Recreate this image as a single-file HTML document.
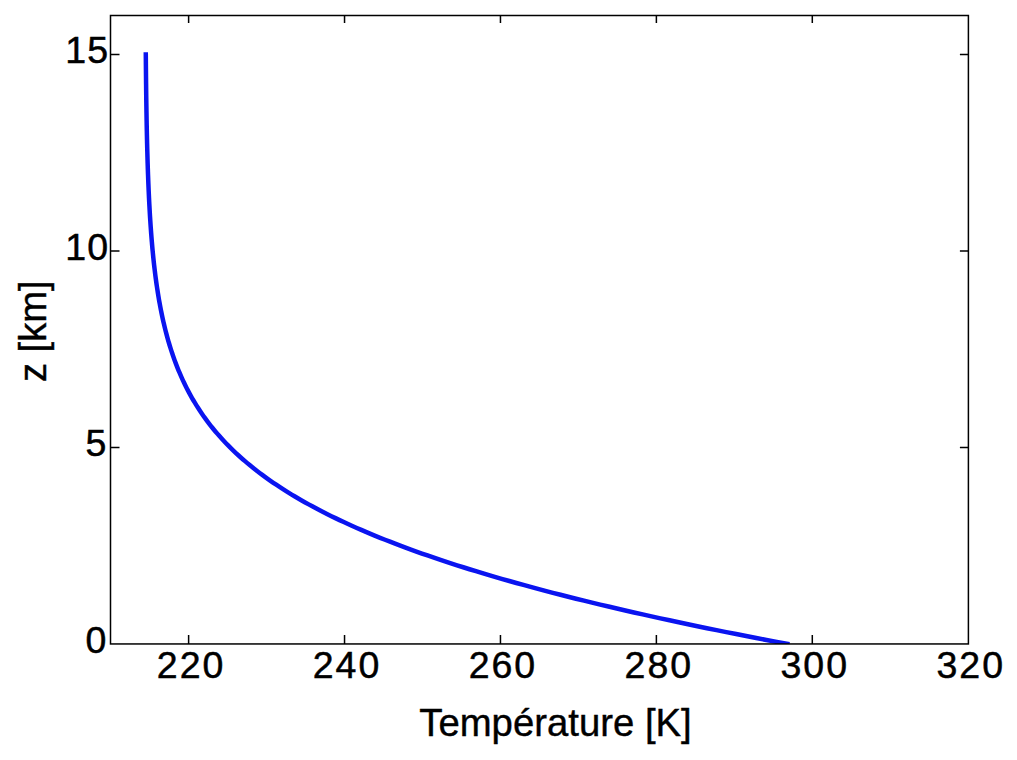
<!DOCTYPE html>
<html><head><meta charset="utf-8"><style>
html,body{margin:0;padding:0;background:#fff;}
svg{display:block;}
text{font-family:"Liberation Sans",sans-serif;fill:#000;}
</style></head><body>
<svg width="1017" height="760" viewBox="0 0 1017 760">
<rect width="1017" height="760" fill="#fff"/>
<defs><clipPath id="ax"><rect x="110.5" y="15.5" width="857.90" height="628.45"/></clipPath></defs>
<path clip-path="url(#ax)" d="M787.27,643.90 L776.81,641.93 L766.47,639.97 L756.25,638.00 L746.14,636.04 L736.16,634.07 L726.29,632.11 L716.53,630.14 L706.90,628.18 L697.38,626.22 L687.98,624.25 L678.69,622.28 L669.51,620.32 L660.45,618.36 L651.51,616.39 L642.68,614.42 L633.96,612.46 L625.35,610.50 L616.86,608.53 L608.47,606.56 L600.20,604.60 L592.04,602.63 L583.99,600.67 L576.04,598.70 L568.21,596.74 L560.48,594.77 L552.86,592.81 L545.34,590.85 L537.94,588.88 L530.63,586.91 L523.44,584.95 L516.34,582.99 L509.35,581.02 L502.46,579.05 L495.67,577.09 L488.99,575.12 L482.40,573.16 L475.92,571.19 L469.53,569.23 L463.24,567.26 L457.05,565.30 L450.96,563.34 L444.96,561.37 L439.05,559.40 L433.24,557.44 L427.53,555.48 L421.90,553.51 L416.37,551.54 L410.93,549.58 L405.57,547.62 L400.31,545.65 L395.13,543.68 L390.05,541.72 L385.04,539.75 L380.13,537.79 L375.29,535.83 L370.55,533.86 L365.88,531.89 L361.30,529.93 L356.79,527.96 L352.37,526.00 L348.02,524.03 L343.76,522.07 L339.57,520.11 L335.45,518.14 L331.41,516.17 L327.45,514.21 L323.56,512.25 L319.74,510.28 L315.99,508.31 L312.31,506.35 L308.71,504.38 L305.17,502.42 L301.70,500.45 L298.29,498.49 L294.95,496.52 L291.68,494.56 L288.46,492.60 L285.32,490.63 L282.23,488.66 L279.20,486.70 L276.24,484.74 L273.33,482.77 L270.48,480.80 L267.69,478.84 L264.96,476.88 L262.28,474.91 L259.65,472.94 L257.08,470.98 L254.56,469.01 L252.09,467.05 L249.68,465.09 L247.31,463.12 L245.00,461.15 L242.73,459.19 L240.51,457.23 L238.33,455.26 L236.21,453.30 L234.12,451.33 L232.08,449.37 L230.09,447.40 L228.14,445.44 L226.23,443.47 L224.36,441.50 L222.53,439.54 L220.74,437.57 L218.99,435.61 L217.28,433.64 L215.60,431.68 L213.96,429.71 L212.36,427.75 L210.79,425.78 L209.26,423.82 L207.76,421.86 L206.30,419.89 L204.86,417.92 L203.46,415.96 L202.09,414.00 L200.76,412.03 L199.45,410.06 L198.17,408.10 L196.92,406.13 L195.70,404.17 L194.50,402.20 L193.33,400.24 L192.19,398.27 L191.08,396.31 L189.99,394.35 L188.92,392.38 L187.88,390.41 L186.87,388.45 L185.87,386.49 L184.90,384.52 L183.96,382.56 L183.03,380.59 L182.12,378.62 L181.24,376.66 L180.38,374.69 L179.54,372.73 L178.71,370.76 L177.91,368.80 L177.12,366.83 L176.35,364.87 L175.61,362.90 L174.87,360.94 L174.16,358.98 L173.46,357.01 L172.78,355.05 L172.12,353.08 L171.47,351.12 L170.83,349.15 L170.21,347.19 L169.61,345.22 L169.02,343.25 L168.44,341.29 L167.88,339.32 L167.33,337.36 L166.79,335.40 L166.27,333.43 L165.76,331.46 L165.26,329.50 L164.77,327.53 L164.30,325.57 L163.83,323.60 L163.38,321.64 L162.94,319.68 L162.50,317.71 L162.08,315.75 L161.67,313.78 L161.27,311.82 L160.88,309.85 L160.50,307.88 L160.12,305.92 L159.76,303.95 L159.40,301.99 L159.06,300.02 L158.72,298.06 L158.39,296.10 L158.07,294.13 L157.75,292.17 L157.45,290.20 L157.15,288.23 L156.85,286.27 L156.57,284.31 L156.29,282.34 L156.02,280.38 L155.75,278.41 L155.50,276.44 L155.24,274.48 L155.00,272.52 L154.76,270.55 L154.52,268.58 L154.29,266.62 L154.07,264.65 L153.85,262.69 L153.64,260.73 L153.43,258.76 L153.23,256.80 L153.03,254.83 L152.84,252.87 L152.65,250.90 L152.47,248.94 L152.29,246.97 L152.12,245.00 L151.95,243.04 L151.78,241.07 L151.62,239.11 L151.46,237.15 L151.31,235.18 L151.16,233.22 L151.01,231.25 L150.87,229.28 L150.73,227.32 L150.59,225.36 L150.46,223.39 L150.33,221.43 L150.20,219.46 L150.08,217.50 L149.96,215.53 L149.84,213.57 L149.73,211.60 L149.62,209.63 L149.51,207.67 L149.40,205.70 L149.30,203.74 L149.20,201.78 L149.10,199.81 L149.00,197.85 L148.91,195.88 L148.81,193.92 L148.73,191.95 L148.64,189.98 L148.55,188.02 L148.47,186.06 L148.39,184.09 L148.31,182.12 L148.23,180.16 L148.16,178.20 L148.09,176.23 L148.01,174.27 L147.94,172.30 L147.88,170.33 L147.81,168.37 L147.75,166.40 L147.68,164.44 L147.62,162.48 L147.56,160.51 L147.50,158.55 L147.45,156.58 L147.39,154.62 L147.34,152.65 L147.28,150.69 L147.23,148.72 L147.18,146.75 L147.13,144.79 L147.08,142.82 L147.04,140.86 L146.99,138.90 L146.95,136.93 L146.90,134.97 L146.86,133.00 L146.82,131.03 L146.78,129.07 L146.74,127.11 L146.70,125.14 L146.66,123.18 L146.63,121.21 L146.59,119.25 L146.56,117.28 L146.52,115.32 L146.49,113.35 L146.46,111.38 L146.43,109.42 L146.40,107.46 L146.37,105.49 L146.34,103.52 L146.31,101.56 L146.28,99.60 L146.25,97.63 L146.23,95.67 L146.20,93.70 L146.18,91.74 L146.15,89.77 L146.13,87.80 L146.11,85.84 L146.08,83.88 L146.06,81.91 L146.04,79.95 L146.02,77.98 L146.00,76.02 L145.98,74.05 L145.96,72.09 L145.94,70.12 L145.92,68.15 L145.90,66.19 L145.88,64.23 L145.87,62.26 L145.85,60.30 L145.83,58.33 L145.82,56.37 L145.80,54.40" fill="none" stroke="#0a14f0" stroke-width="4.5" stroke-linecap="square" stroke-linejoin="round"/>
<rect x="110.5" y="15.5" width="857.90" height="628.45" fill="none" stroke="#000" stroke-width="1.5"/>
<path d="M188.62,643.95 V634.95 M188.62,15.5 V23.0 M344.54,643.95 V634.95 M344.54,15.5 V23.0 M500.46,643.95 V634.95 M500.46,15.5 V23.0 M656.38,643.95 V634.95 M656.38,15.5 V23.0 M812.30,643.95 V634.95 M812.30,15.5 V23.0 M110.5,447.40 H119.5 M968.4,447.40 H959.9 M110.5,250.90 H119.5 M968.4,250.90 H959.9 M110.5,54.40 H119.5 M968.4,54.40 H959.9" stroke="#000" stroke-width="1.5" fill="none"/>
<g font-size="37.5" stroke="#000" stroke-width="0.5">
<text x="191.12" y="678" text-anchor="middle" letter-spacing="2">220</text>
<text x="347.04" y="678" text-anchor="middle" letter-spacing="2">240</text>
<text x="502.96" y="678" text-anchor="middle" letter-spacing="2">260</text>
<text x="658.88" y="678" text-anchor="middle" letter-spacing="2">280</text>
<text x="814.80" y="678" text-anchor="middle" letter-spacing="2">300</text>
<text x="970.72" y="678" text-anchor="middle" letter-spacing="2">320</text>
<text x="106.30" y="652.80" text-anchor="end" letter-spacing="0">0</text>
<text x="106.30" y="456.30" text-anchor="end" letter-spacing="0">5</text>
<text x="109.00" y="259.80" text-anchor="end" letter-spacing="1">10</text>
<text x="109.00" y="63.30" text-anchor="end" letter-spacing="1">15</text>
</g>
<text x="555.5" y="735.6" font-size="38.3" text-anchor="middle" stroke="#000" stroke-width="0.4">Température [K]</text>
<text transform="translate(45.8,331.3) rotate(-90)" font-size="38.1" text-anchor="middle" stroke="#000" stroke-width="0.4">z [km]</text>
</svg>
</body></html>
